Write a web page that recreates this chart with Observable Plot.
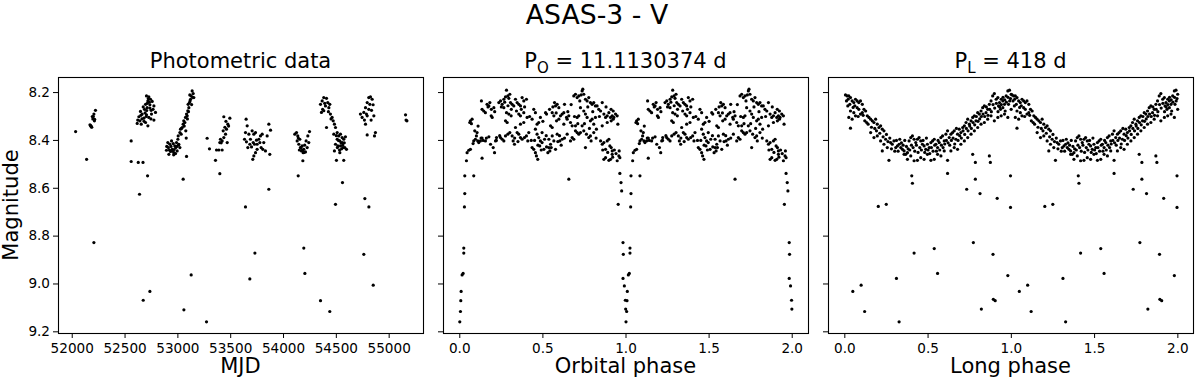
<!DOCTYPE html>
<html>
<head>
<meta charset="utf-8">
<script src="https://cdn.jsdelivr.net/npm/d3@7"></script>
<script src="https://cdn.jsdelivr.net/npm/@observablehq/plot@0.6"></script>
<style>
  html, body { margin: 0; padding: 0; background: white; }
  #wrap { position: relative; width: 1200px; height: 383px; overflow: hidden; font-family: "DejaVu Sans", sans-serif; }
</style>
</head>
<body>
<div id="wrap"></div>
<script>
// ---------------- DATA ----------------
const mainTitle = "ASAS-3 - V";
const panelTitles = ["Photometric data", "P_O = 11.1130374 d", "P_L = 418 d"];
const xLabels = ["MJD", "Orbital phase", "Long phase"];
const yLabel = "Magnitude";
const mjdTicks = [52000, 52500, 53000, 53500, 54000, 54500, 55000];
const magTicks = [8.2, 8.4, 8.6, 8.8, 9.0, 9.2];
const phaseTicks = [0.0, 0.5, 1.0, 1.5, 2.0];

// [MJD, V magnitude]
const photometric = [
  [52032,8.363],[52136,8.479],[52205,8.827],
  [52220,8.274],[52205,8.29],[52190,8.30],[52195,8.31],[52210,8.318],[52168,8.335],[52180,8.343],[52175,8.338],[52185,8.345],[52200,8.30],[52212,8.312],[52178,8.341],
  [52558,8.402],[52558,8.488],[52625,8.492],[52670,8.492],[52637,8.625],[52713,8.548],[52672,9.068],[52735,9.031],
  [52703,8.214],[52725,8.218],[52741,8.228],[52716,8.235],[52757,8.237],[52694,8.249],[52735,8.251],[52773,8.256],[52672,8.26],[52709,8.263],[52684,8.27],[52747,8.274],[52646,8.279],[52788,8.283],[52662,8.29],[52703,8.293],[52631,8.301],[52725,8.304],[52678,8.307],[52773,8.315],[52640,8.318],[52694,8.325],[52653,8.332],[52716,8.339],[52615,8.329],
  [52720,8.225],[52730,8.24],[52690,8.285],[52700,8.30],[52660,8.31],[52750,8.29],[52745,8.31],[52620,8.315],[52680,8.32],[52705,8.275],[52765,8.27],[52650,8.295],[52710,8.245],[52735,8.265],
  [52892,8.441],[52915,8.458],[52930,8.446],[52946,8.437],[52962,8.451],[52978,8.455],[52993,8.444],[52905,8.409],[52924,8.416],[52940,8.402],[52956,8.413],[52971,8.423],[52987,8.409],[53000,8.395],[53009,8.416],[53019,8.43],[53003,8.381],[53019,8.367],[53031,8.374],[53025,8.353],[53041,8.346],[53050,8.332],[53056,8.318],[53066,8.325],[53072,8.304],[53082,8.29],[53088,8.297],[53094,8.276],[53104,8.263],[53097,8.249],[53110,8.242],[53120,8.228],[53126,8.214],[53135,8.193],[53145,8.204],[53113,8.21],[53151,8.221],[53075,8.36],
  [52895,8.425],[52910,8.43],[52935,8.425],[52950,8.445],[52965,8.438],[52980,8.43],[52990,8.425],[53005,8.42],[52920,8.44],[52960,8.46],[53035,8.35],[53060,8.34],[53090,8.31],[53100,8.28],[53115,8.235],[53140,8.22],[53130,8.25],
  [53050,8.562],[53126,8.962],[53057,9.108],[53079,8.39],[53082,8.467],
  [53277,8.391],[53299,8.435],[53356,8.483],[53397,8.539],[53366,8.44],[53388,8.44],[53419,8.44],[53403,8.395],[53419,8.402],[53435,8.388],[53451,8.374],[53429,8.36],[53460,8.353],[53473,8.332],[53435,8.301],[53492,8.307],[53467,8.409],[53397,8.409],[53271,9.158],[53445,8.345],[53455,8.32],[53480,8.34],[53410,8.41],
  [53646,8.311],[53656,8.339],[53640,8.367],[53631,8.395],[53649,8.406],[53662,8.43],[53703,8.36],[53719,8.374],[53735,8.367],[53687,8.395],[53713,8.409],[53725,8.416],[53744,8.399],[53766,8.395],[53782,8.381],[53798,8.374],[53813,8.409],[53829,8.444],[53845,8.381],[53861,8.332],[53877,8.357],[53719,8.465],[53709,8.479],[53735,8.451],[53750,8.437],[53681,8.416],[53697,8.427],[53788,8.43],[53804,8.437],[53870,8.458],[53672,8.374],[53750,8.416],[53776,8.409],
  [53861,8.604],[53640,8.678],[53729,8.871],[53681,8.979],
  [54107,8.374],[54123,8.367],[54135,8.381],[54154,8.395],[54145,8.416],[54160,8.43],[54170,8.444],[54186,8.451],[54208,8.448],[54224,8.43],[54239,8.409],[54230,8.381],[54246,8.363],[54176,8.423],[54192,8.437],[54129,8.402],[54214,8.402],[54183,8.485],[54150,8.44],[54165,8.43],[54180,8.44],[54195,8.45],[54200,8.42],[54140,8.39],
  [54139,8.548],[54192,8.85],[54202,8.956],
  [54350,8.249],[54366,8.235],[54381,8.221],[54407,8.224],[54419,8.242],[54397,8.256],[54359,8.283],[54381,8.276],[54429,8.263],[54438,8.249],[54444,8.29],[54460,8.304],[54470,8.318],[54407,8.346],[54482,8.332],[54492,8.346],[54476,8.374],[54508,8.367],[54523,8.381],[54539,8.374],[54555,8.388],[54570,8.395],[54586,8.385],[54508,8.395],[54533,8.402],[54555,8.409],[54492,8.416],[54514,8.423],[54539,8.423],[54564,8.43],[54596,8.437],[54482,8.444],[54533,8.451],[54501,8.483],[54570,8.483],[54558,8.576],
  [54520,8.40],[54545,8.41],[54560,8.42],[54575,8.41],[54510,8.43],[54530,8.44],[54550,8.435],[54580,8.43],[54500,8.38],[54370,8.27],[54390,8.245],[54425,8.28],[54450,8.31],
  [54492,8.667],[54350,9.07],[54438,9.115],
  [54807,8.221],[54823,8.218],[54839,8.228],[54792,8.242],[54817,8.249],[54848,8.251],[54776,8.263],[54807,8.27],[54833,8.274],[54728,8.29],[54760,8.283],[54785,8.29],[54744,8.304],[54766,8.315],[54792,8.297],[54829,8.315],[54855,8.297],[54792,8.377],[54861,8.381],[54870,8.367],[54776,8.332],
  [54770,8.643],[54808,8.678],[54760,8.876],[54849,9.005],
  [55155,8.293],[55160,8.315],[55168,8.318]
];

// [orbital phase (one cycle, 0..1), magnitude] ; the chart shows two cycles
const orbitalCycle = [
  [0.000,9.158],[0.004,9.115],[0.006,9.070],[0.008,9.031],[0.014,8.962],[0.020,8.956],[0.024,8.871],[0.024,8.850],[0.028,8.678],[0.030,8.622],[0.030,8.548],
  [0.040,8.485],[0.044,8.451],[0.054,8.441],[0.064,8.437],[0.064,8.318],[0.074,8.311],[0.060,8.325],[0.084,8.402],[0.080,8.413],[0.094,8.395],[0.100,8.381],[0.104,8.367],[0.108,8.402],[0.114,8.409],[0.084,8.548],[0.134,8.474],[0.124,8.402],[0.128,8.390],
  [0.130,8.235],[0.134,8.270],[0.144,8.277],[0.154,8.284],[0.164,8.249],[0.175,8.256],[0.181,8.242],[0.189,8.297],[0.195,8.304],[0.205,8.263],[0.134,8.390],[0.154,8.402],[0.175,8.385],[0.185,8.416],[0.201,8.430],[0.215,8.402],[0.221,8.388],[0.209,8.451],
  [0.235,8.242],[0.245,8.235],[0.255,8.249],[0.265,8.228],[0.275,8.218],[0.281,8.190],[0.289,8.214],[0.295,8.224],[0.301,8.207],[0.305,8.242],[0.315,8.249],[0.325,8.256],[0.265,8.263],[0.281,8.284],[0.295,8.290],[0.309,8.297],[0.275,8.318],[0.285,8.325],[0.245,8.388],[0.255,8.395],[0.265,8.402],[0.275,8.381],[0.289,8.374],[0.301,8.367],[0.315,8.381],[0.321,8.402],[0.329,8.416],
  [0.335,8.228],[0.345,8.242],[0.355,8.249],[0.365,8.256],[0.375,8.221],[0.385,8.235],[0.401,8.228],[0.341,8.277],[0.355,8.290],[0.365,8.297],[0.385,8.284],[0.405,8.304],[0.335,8.346],[0.345,8.367],[0.355,8.374],[0.365,8.388],[0.375,8.395],[0.389,8.388],[0.401,8.381],[0.409,8.402],[0.415,8.367],[0.365,8.332],[0.385,8.325],
  [0.445,8.270],[0.455,8.284],[0.465,8.332],[0.435,8.311],[0.475,8.325],[0.485,8.304],[0.455,8.353],[0.465,8.374],[0.475,8.388],[0.485,8.402],[0.435,8.430],[0.445,8.437],[0.455,8.451],[0.461,8.465],[0.469,8.479],[0.481,8.423],[0.495,8.409],[0.506,8.437],[0.516,8.284],[0.522,8.290],[0.495,8.367],[0.510,8.395],
  [0.536,8.395],[0.546,8.416],[0.556,8.381],[0.566,8.402],[0.570,8.242],[0.576,8.256],[0.586,8.249],[0.596,8.263],[0.556,8.284],[0.566,8.297],[0.582,8.318],[0.596,8.311],[0.606,8.297],[0.616,8.290],[0.626,8.284],[0.546,8.339],[0.556,8.346],[0.586,8.374],[0.602,8.402],[0.616,8.395],[0.626,8.332],[0.542,8.444],[0.550,8.430],[0.576,8.437],[0.590,8.405],[0.522,8.427],[0.530,8.451],[0.536,8.430],
  [0.630,8.249],[0.642,8.304],[0.646,8.311],[0.656,8.297],[0.666,8.325],[0.676,8.339],[0.686,8.214],[0.696,8.207],[0.706,8.221],[0.716,8.214],[0.722,8.235],[0.656,8.562],[0.686,8.395],[0.696,8.360],[0.706,8.367],[0.716,8.374],[0.726,8.367],[0.696,8.339],[0.676,8.388],[0.666,8.402],[0.646,8.374],[0.706,8.304],[0.716,8.297],[0.726,8.263],[0.736,8.193],[0.740,8.186],
  [0.746,8.207],[0.756,8.228],[0.766,8.235],[0.776,8.221],[0.786,8.242],[0.796,8.249],[0.806,8.242],[0.816,8.256],[0.746,8.277],[0.756,8.290],[0.766,8.304],[0.786,8.318],[0.796,8.311],[0.806,8.332],[0.816,8.304],[0.736,8.339],[0.746,8.360],[0.762,8.374],[0.776,8.388],[0.790,8.402],[0.756,8.430],[0.786,8.381],[0.806,8.367],[0.822,8.353],[0.826,8.256],
  [0.836,8.270],[0.847,8.277],[0.857,8.242],[0.867,8.290],[0.877,8.304],[0.887,8.297],[0.897,8.284],[0.907,8.304],[0.917,8.297],[0.923,8.277],[0.847,8.402],[0.857,8.416],[0.867,8.409],[0.877,8.437],[0.887,8.402],[0.897,8.395],[0.903,8.423],[0.911,8.430],[0.917,8.444],[0.867,8.479],[0.877,8.472],[0.897,8.483],[0.907,8.479],[0.917,8.458],[0.857,8.339],[0.887,8.325],[0.911,8.318],[0.923,8.311],[0.927,8.304],
  [0.937,8.290],[0.947,8.297],[0.951,8.332],[0.957,8.465],[0.963,8.472],[0.947,8.485],[0.959,8.444],
  [0.070,8.330],[0.090,8.360],[0.110,8.340],[0.140,8.400],[0.160,8.390],[0.170,8.260],[0.190,8.270],[0.210,8.280],[0.220,8.400],[0.240,8.380],[0.250,8.260],[0.270,8.240],[0.290,8.255],[0.310,8.270],[0.330,8.390],[0.350,8.405],[0.370,8.270],[0.390,8.260],[0.420,8.300],[0.430,8.400],[0.450,8.400],[0.470,8.420],[0.490,8.440],[0.500,8.320],[0.520,8.380],[0.540,8.270],[0.560,8.260],[0.580,8.285],[0.600,8.380],[0.610,8.420],[0.630,8.390],[0.650,8.280],[0.670,8.250],[0.690,8.300],[0.710,8.330],[0.730,8.210],[0.750,8.330],[0.770,8.260],[0.780,8.350],[0.800,8.280],[0.820,8.390],[0.840,8.300],[0.860,8.440],[0.880,8.260],[0.890,8.450],[0.910,8.270],[0.930,8.440],[0.940,8.455],[0.920,8.470],
  [0.953,8.667],[0.963,8.538],[0.970,8.576],[0.974,8.611],[0.982,8.827],[0.984,8.876],[0.982,8.977],[0.990,9.008],[0.996,9.068],[0.998,9.105]
];

// [long phase (one cycle, 0..1), magnitude] ; the chart shows two cycles
const longCycle = [
  [0.004,8.210],[0.014,8.214],[0.024,8.214],[0.034,8.221],[0.010,8.235],[0.018,8.256],[0.030,8.249],[0.044,8.235],[0.054,8.242],[0.064,8.228],[0.074,8.235],[0.084,8.242],[0.094,8.235],[0.105,8.249],[0.034,8.277],[0.024,8.304],[0.044,8.311],[0.054,8.284],[0.064,8.297],[0.074,8.263],[0.084,8.270],[0.094,8.290],[0.105,8.284],[0.034,8.349],[0.115,8.270],[0.125,8.277],
  [0.135,8.297],[0.145,8.304],[0.155,8.311],[0.165,8.318],[0.175,8.325],[0.185,8.311],[0.195,8.332],[0.205,8.346],[0.215,8.339],[0.225,8.353],[0.235,8.360],[0.131,8.325],[0.155,8.367],[0.175,8.388],[0.195,8.381],[0.215,8.402],[0.225,8.444],[0.235,8.416],[0.245,8.395],[0.259,8.405],[0.265,8.483],[0.255,8.430],[0.275,8.409],[0.285,8.416],[0.295,8.402],[0.306,8.430],[0.316,8.423],[0.326,8.416],[0.336,8.430],[0.346,8.437],[0.356,8.444],[0.366,8.458],[0.376,8.451],[0.386,8.402],[0.396,8.388],[0.406,8.381],[0.416,8.395],[0.426,8.409],[0.436,8.395],[0.446,8.388],[0.456,8.402],[0.466,8.416],[0.476,8.423],[0.486,8.437],[0.496,8.416],[0.507,8.430],[0.517,8.409],[0.527,8.402],[0.537,8.395],[0.547,8.416],[0.557,8.430],[0.567,8.409],[0.577,8.388],[0.587,8.381],[0.597,8.402],[0.607,8.374],[0.617,8.360],[0.627,8.388],[0.637,8.374],[0.647,8.367],[0.657,8.360],[0.667,8.395],[0.677,8.374],[0.687,8.353],[0.697,8.367],[0.708,8.346],[0.718,8.339],[0.728,8.325],[0.738,8.311],[0.748,8.332],[0.758,8.318],[0.768,8.304],[0.778,8.297],[0.788,8.318],[0.798,8.284],[0.808,8.290],[0.818,8.277],[0.828,8.263],[0.838,8.256],[0.848,8.284],[0.858,8.270],[0.868,8.249],[0.878,8.235],[0.888,8.214],[0.898,8.204],[0.909,8.228],[0.919,8.221],[0.929,8.242],[0.939,8.228],[0.949,8.235],[0.959,8.249],[0.969,8.214],[0.979,8.193],[0.989,8.190],[0.999,8.207],[0.935,8.270],[0.923,8.256],[0.949,8.263],[0.963,8.277],[0.983,8.249],
  [0.356,8.458],[0.376,8.479],[0.396,8.465],[0.416,8.485],[0.436,8.483],[0.456,8.472],[0.476,8.479],[0.496,8.458],[0.517,8.483],[0.537,8.479],[0.557,8.458],[0.577,8.465],[0.597,8.444],[0.617,8.483],[0.637,8.444],[0.657,8.430],[0.677,8.437],[0.697,8.416],[0.718,8.402],[0.738,8.388],[0.758,8.374],[0.778,8.360],[0.798,8.346],[0.818,8.332],[0.838,8.325],[0.858,8.311],[0.878,8.297],[0.898,8.318],[0.919,8.304],[0.939,8.297],[0.959,8.290],[0.979,8.304],[0.999,8.270],
  [0.020,8.228],[0.050,8.262],[0.060,8.255],[0.080,8.300],[0.110,8.295],[0.120,8.318],[0.140,8.332],[0.160,8.345],[0.180,8.350],[0.190,8.360],[0.210,8.370],[0.230,8.385],[0.250,8.375],[0.270,8.390],[0.280,8.435],[0.300,8.445],[0.310,8.400],[0.320,8.445],[0.330,8.395],[0.340,8.410],[0.350,8.420],[0.360,8.400],[0.370,8.425],[0.380,8.435],[0.390,8.440],[0.400,8.420],[0.410,8.430],[0.420,8.445],[0.430,8.420],[0.440,8.450],[0.450,8.430],[0.460,8.440],[0.470,8.400],[0.480,8.450],[0.490,8.390],[0.500,8.440],[0.510,8.455],[0.520,8.430],[0.530,8.445],[0.540,8.420],[0.550,8.445],[0.560,8.400],[0.570,8.440],[0.580,8.420],[0.590,8.430],[0.600,8.415],[0.610,8.400],[0.620,8.410],[0.630,8.420],[0.640,8.400],[0.650,8.390],[0.660,8.415],[0.670,8.350],[0.680,8.400],[0.690,8.380],[0.700,8.390],[0.710,8.360],[0.720,8.375],[0.730,8.350],[0.740,8.360],[0.750,8.340],[0.760,8.350],[0.770,8.325],[0.780,8.335],[0.790,8.300],[0.800,8.320],[0.810,8.310],[0.820,8.300],[0.830,8.290],[0.840,8.300],[0.850,8.260],[0.860,8.295],[0.870,8.270],[0.880,8.280],[0.890,8.250],[0.900,8.265],[0.910,8.245],[0.920,8.280],[0.930,8.260],[0.940,8.250],[0.950,8.220],[0.960,8.230],[0.970,8.240],[0.980,8.220],[0.990,8.235],[0.995,8.225],
  [0.048,9.031],[0.098,9.005],[0.119,9.115],[0.201,8.676],[0.249,8.667],[0.310,8.977],[0.326,9.158],[0.402,8.548],[0.406,8.579],[0.416,8.871],[0.537,8.852],[0.557,8.956],[0.617,8.538],[0.732,8.604],[0.772,8.827],[0.784,8.562],[0.812,8.622],[0.820,9.105],[0.868,8.465],[0.874,8.492],[0.890,8.876],[0.892,9.064],[0.903,9.070],[0.915,8.642],[0.979,8.965],[0.995,8.548],[0.995,8.680],[0.768,8.458],[0.784,8.492]
];

// two cycles are plotted (phase 0..2): the second is the same observations shifted by one cycle
const twoCycles = cyc => cyc.concat(cyc.map(([p, m]) => [p + 1, m]));

// ---------------- DRAW ----------------
const FONT = "DejaVu Sans";
const TICK_FS = "13.6px";
const wrap = document.getElementById("wrap");
const yDomain = [8.137, 9.207];
const fmt1 = d3.format(".1f");

function panel({left, width, marginLeft, marginRight, data, xDomain, xTicks, xFormat, yLabels}) {
  const svg = Plot.plot({
    width, height: 383,
    marginLeft, marginRight, marginTop: 77, marginBottom: 50,
    style: {fontFamily: FONT, fontSize: TICK_FS, color: "black", background: "transparent", overflow: "visible"},
    x: {domain: xDomain, axis: null},
    y: {domain: yDomain, reverse: true, axis: null},
    marks: [
      Plot.axisX({ticks: xTicks, tickFormat: xFormat, tickSize: 5, tickPadding: 4.5, label: null, stroke: "black", fill: "black"}),
      Plot.axisY({ticks: magTicks, tickFormat: yLabels ? fmt1 : () => "", tickSize: 5, tickPadding: 3.5, label: null, stroke: "black", fill: "black"}),
      Plot.frame({stroke: "black", strokeWidth: 1.1}),
      Plot.dot(data, {x: d => d[0], y: d => d[1], r: 1.6, fill: "black"})
    ]
  });
  svg.style.position = "absolute";
  svg.style.left = left + "px";
  svg.style.top = "0px";
  svg.style.maxWidth = "none";
  wrap.appendChild(svg);
}

panel({left: 0, width: 433, marginLeft: 58, marginRight: 10, data: photometric,
       xDomain: [51870, 55325], xTicks: mjdTicks, xFormat: d => String(d), yLabels: true});
panel({left: 433, width: 385, marginLeft: 10, marginRight: 10, data: twoCycles(orbitalCycle),
       xDomain: [-0.098, 2.098], xTicks: phaseTicks, xFormat: fmt1, yLabels: false});
panel({left: 818, width: 382, marginLeft: 10, marginRight: 7, data: twoCycles(longCycle),
       xDomain: [-0.098, 2.094], xTicks: phaseTicks, xFormat: fmt1, yLabels: false});

// ---------------- TEXT (titles and axis labels) ----------------
const ov = d3.create("svg").attr("width", 1200).attr("height", 383)
  .style("position", "absolute").style("left", "0px").style("top", "0px")
  .attr("font-family", FONT).attr("fill", "black");

ov.append("text").attr("x", 597).attr("y", 24).attr("text-anchor", "middle")
  .attr("font-size", "26.7px").text(mainTitle);

const centers = [240.5, 625.5, 1010.5];
function titleWithSub(t, cx) {
  const m = t.match(/^P_(\w)(.*)$/);
  const el = ov.append("text").attr("x", cx).attr("y", 68).attr("text-anchor", "middle").attr("font-size", "21px");
  if (!m) { el.text(t); return; }
  el.append("tspan").text("P");
  el.append("tspan").attr("font-size", "15px").attr("dy", 4.5).text(m[1]);
  el.append("tspan").attr("dy", -4.5).text(m[2]);
}
panelTitles.forEach((t, i) => titleWithSub(t, centers[i]));
xLabels.forEach((t, i) => {
  ov.append("text").attr("x", centers[i]).attr("y", 373).attr("text-anchor", "middle")
    .attr("font-size", "21px").text(t);
});
ov.append("text").attr("transform", "translate(18,205) rotate(-90)").attr("text-anchor", "middle")
  .attr("font-size", "21px").text(yLabel);

wrap.appendChild(ov.node());
</script>
</body>
</html>
